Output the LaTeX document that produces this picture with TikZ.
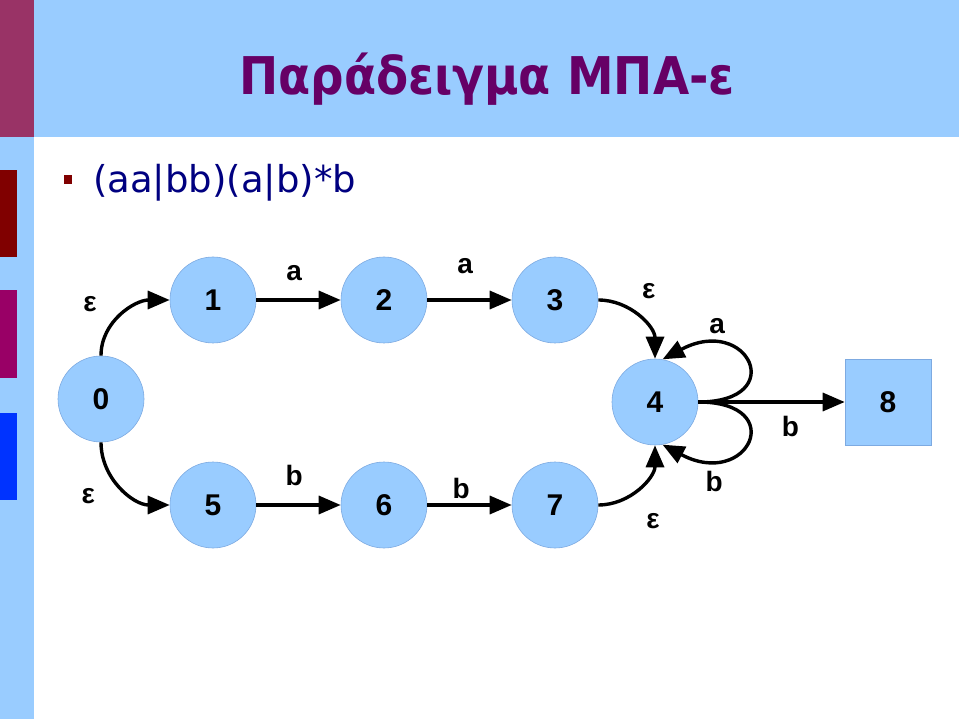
\documentclass[tikz,border=0pt]{standalone}
\usepackage{fontspec}
\setmainfont{Liberation Sans}
\newfontfamily\slidefont{DejaVu Sans Condensed}
\newfontfamily\bulletfont{DejaVu Sans}
\usetikzlibrary{arrows.meta}
\definecolor{slideblue}{RGB}{153,204,255}
\definecolor{nodeline}{RGB}{125,170,225}
\definecolor{titlepurple}{RGB}{102,0,102}
\definecolor{barmaroon}{RGB}{153,51,102}
\definecolor{bardarkred}{RGB}{128,0,0}
\definecolor{barpurple}{RGB}{153,0,102}
\definecolor{barblue}{RGB}{0,51,255}
\definecolor{textnavy}{RGB}{0,0,128}

\begin{document}
\begin{tikzpicture}[x=1pt, y=-1pt,
				state/.style={circle, fill=slideblue, draw=nodeline, line width=0.6pt, minimum size=86pt, inner sep=0pt, font=\bfseries\fontsize{30}{30}\selectfont},
				accept/.style={rectangle, fill=slideblue, draw=nodeline, line width=0.6pt, minimum size=86pt, inner sep=0pt, font=\bfseries\fontsize{30}{30}\selectfont},
				trans/.style={->, line width=3.4pt},
				lab/.style={inner sep=2pt, font=\bfseries\fontsize{28}{28}\selectfont},
				>={Triangle[length=22pt,width=18pt]}]
				% Folie
				\useasboundingbox (0,0) rectangle (959,719);
				\fill[white] (0,0) rectangle (959,719);
				\fill[slideblue] (0,0) rectangle (34,719);
				\fill[barmaroon] (0,0) rectangle (34,137);
				\fill[slideblue] (34,0) rectangle (959,137);
				\foreach \c/\ya/\yb in {bardarkred/170/257, barpurple/290/378, barblue/413/500}
					\fill[\c] (0,\ya) rectangle (17,\yb);
				% Titel und Text
				\node[anchor=base, titlepurple, font=\slidefont\bfseries\fontsize{52}{52}\selectfont] (title) at (487,95) {Παράδειγμα ΜΠΑ-ε};
				\fill[bardarkred] (64,175) rectangle (72,184);
				\node[anchor=base west, inner sep=0pt, textnavy, font=\bulletfont\fontsize{37}{37}\selectfont] (regex) at (93,193) {(aa|bb)(a|b)*b};
				% Zustaende
				\node[state] (s0) at (101,399) {0};
				\node[state] (s1) at (213,300) {1};
				\node[state] (s2) at (384,300) {2};
				\node[state] (s3) at (555,300) {3};
				\node[state] (s4) at (655,402) {4};
				\node[state] (s5) at (213,505) {5};
				\node[state] (s6) at (384,505) {6};
				\node[state] (s7) at (555,505) {7};
				\node[accept] (s8) at (888,402) {8};
				% Uebergaenge
				\draw[trans] (s0.north) to[out=90, in=180] node[lab, pos=0.75, left=44pt] {ε} (s1.west);
				\draw[trans] (s0.south) to[out=-90, in=180] node[lab, pos=0.75, left=45pt, yshift=4pt] {ε} (s5.west);
				\draw[trans] (s1) -- node[lab, above=16pt, pos=0.45] {a} (s2);
				\draw[trans] (s2) -- node[lab, above=23pt, pos=0.45] {a} (s3);
				\draw[trans] (s5) -- node[lab, above=16pt, pos=0.45] {b} (s6);
				\draw[trans] (s6) -- node[lab, above=3pt, pos=0.4] {b} (s7);
				\draw[trans] (s3.east) to[out=0, in=90] node[lab, pos=0.35, above right=6pt, xshift=4pt] {ε} (s4.north);
				\draw[trans] (s7.east) to[out=0, in=-90] node[lab, pos=0.35, below right=14pt] {ε} (s4.south);
				\draw[trans] (s4.east) .. controls (790,402) and (748,314) .. node[lab, pos=0.75, above=9pt] {a} (s4.80);
				\draw[trans] (s4.east) .. controls (790,402) and (748,490) .. node[lab, pos=0.75, below=10pt, xshift=-3pt] {b} (s4.-80);
				\draw[trans] (s4) -- node[lab, below=11pt, pos=0.63] {b} (s8);
			\end{tikzpicture}
\end{document}
